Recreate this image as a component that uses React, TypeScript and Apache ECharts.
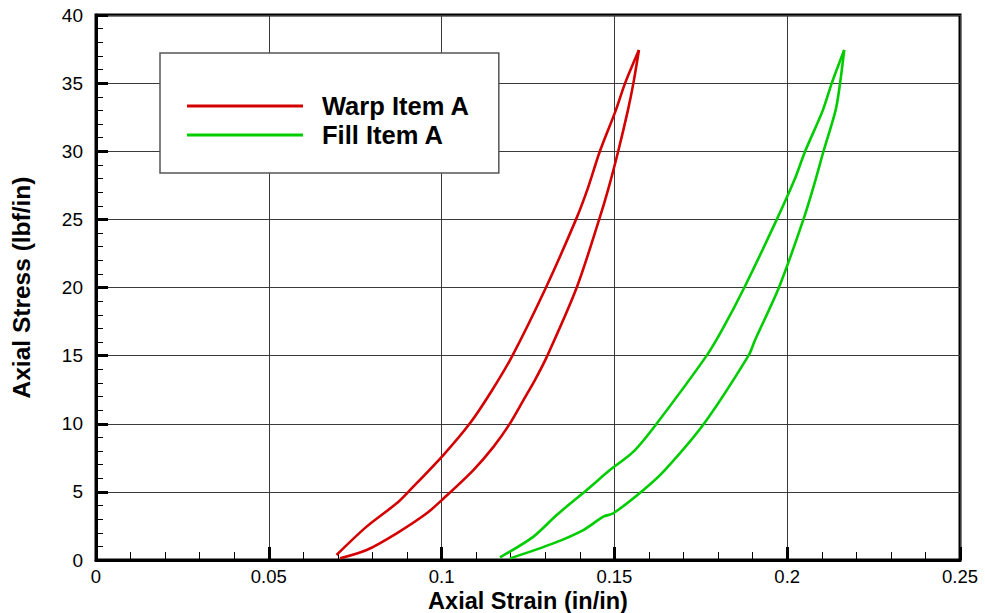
import React, { useEffect, useRef } from "react";
import * as echarts from "echarts";

// Hysteresis loops: axial stress vs axial strain, split into loading and unloading branches
const warpLoadStrain = [0.0696, 0.0783, 0.087, 0.0909, 0.1005, 0.1082, 0.1147, 0.1205, 0.1302, 0.1389, 0.1422, 0.1458, 0.1504, 0.1531, 0.1571];
const warpLoadStress = [0.37, 2.45, 4.16, 5.14, 7.7, 10.03, 12.5, 15, 20, 25, 27.2, 30, 33, 35, 37.43];
const warpUnloadStrain = [0.1571, 0.1555, 0.1539, 0.1511, 0.1482, 0.1456, 0.1391, 0.1306, 0.127, 0.1236, 0.1198, 0.115, 0.1092, 0.1005, 0.0957, 0.087, 0.0783, 0.0706];
const warpUnloadStress = [37.43, 35, 33, 30, 27.2, 25, 20, 15, 13.2, 11.7, 10.03, 8.3, 6.6, 4.5, 3.43, 1.96, 0.73, 0.12];

const fillLoadStrain = [0.1169, 0.1265, 0.1333, 0.142, 0.1487, 0.1555, 0.1622, 0.1767, 0.1812, 0.1876, 0.197, 0.2021, 0.2052, 0.2103, 0.2129, 0.2165];
const fillLoadStress = [0.2, 1.7, 3.3, 5.14, 6.6, 7.95, 10, 15, 16.9, 20, 25, 27.9, 30, 33, 35, 37.43];
const fillUnloadStrain = [0.2165, 0.2153, 0.214, 0.2105, 0.2082, 0.2047, 0.1976, 0.1907, 0.1888, 0.1759, 0.1646, 0.1584, 0.1497, 0.1468, 0.141, 0.1323, 0.1198];
const fillUnloadStress = [37.43, 35, 33, 30, 27.9, 25, 20, 16.15, 15, 10, 6.6, 5.14, 3.43, 3.18, 2.2, 1.22, 0.12];

const seriesNames = ["Warp Item A", "Fill Item A"];
const seriesColors = ["#d40000", "#00cc00"];

const FONT = "Liberation Sans, Arial, Helvetica, sans-serif";

const pairs = (xs: number[], ys: number[]) => xs.map((x, i) => [x, ys[i]]);

const branch = (name: string, color: string, xs: number[], ys: number[]) => ({
  name,
  type: "line",
  showSymbol: false,
  smooth: 0.3,
  data: pairs(xs, ys),
  lineStyle: { color, width: 2.6 },
  itemStyle: { color },
});

export default function App() {
  const ref = useRef<HTMLDivElement>(null);

  useEffect(() => {
    document.body.style.margin = "0";
    if (!ref.current) return;
    const chart = echarts.init(ref.current, null, { renderer: "svg" });

    const axisCommon = {
      axisLine: { show: true, onZero: false, lineStyle: { color: "#000", width: 3 } },
      axisTick: { show: true, inside: true, length: 12, lineStyle: { color: "#000", width: 3 } },
      minorTick: { show: true, splitNumber: 5, length: 7, lineStyle: { color: "#000", width: 1 } },
      splitLine: { show: true, lineStyle: { color: "#3a3a3a", width: 1 } },
      axisLabel: { color: "#000", fontSize: 19, lineHeight: 19, fontFamily: FONT },
      nameLocation: "middle" as const,
      nameMoveOverlap: false,
      nameTextStyle: { color: "#000", fontSize: 24.5, lineHeight: 22, fontWeight: "bold" as const, fontFamily: FONT },
    };

    chart.setOption({
      animation: false,
      backgroundColor: "#fff",
      color: seriesColors,
      grid: {
        left: 96,
        right: 25,
        top: 15,
        bottom: 53,
        outerBoundsMode: "none",
        containLabel: false,
        show: true,
        borderColor: "#000",
        borderWidth: 3,
      },
      legend: {
        show: true,
        orient: "vertical",
        left: 160,
        top: 53,
        padding: [40, 29, 25, 27],
        itemWidth: 116,
        itemHeight: 3,
        itemGap: 3,
        icon: "rect",
        backgroundColor: "#fff",
        borderColor: "#555",
        borderWidth: 1.5,
        data: seriesNames,
        textStyle: {
          color: "#000",
          fontSize: 25.5,
          fontWeight: "bold",
          fontFamily: FONT,
          padding: [0, 0, 0, 14],
        },
      },
      xAxis: {
        type: "value",
        min: 0,
        max: 0.25,
        interval: 0.05,
        name: "Axial Strain (in/in)",
        nameGap: 30,
        ...axisCommon,
        nameTextStyle: { ...axisCommon.nameTextStyle, fontSize: 23.5 },
        axisLabel: { ...axisCommon.axisLabel, fontSize: 18.5, lineHeight: 18, margin: 7 },
        axisTick: { ...axisCommon.axisTick, length: 13 },
        minorTick: { ...axisCommon.minorTick, length: 8 },
      },
      yAxis: {
        type: "value",
        min: 0,
        max: 40,
        interval: 5,
        name: "Axial Stress (lbf/in)",
        nameGap: 64,
        ...axisCommon,
        axisLabel: { ...axisCommon.axisLabel, margin: 13 },
      },
      series: [
        branch(seriesNames[0], seriesColors[0], warpLoadStrain, warpLoadStress),
        branch(seriesNames[0], seriesColors[0], warpUnloadStrain, warpUnloadStress),
        branch(seriesNames[1], seriesColors[1], fillLoadStrain, fillLoadStress),
        branch(seriesNames[1], seriesColors[1], fillUnloadStrain, fillUnloadStress),
      ],
    });

    return () => chart.dispose();
  }, []);

  return <div ref={ref} style={{ width: 985, height: 613 }} />;
}
